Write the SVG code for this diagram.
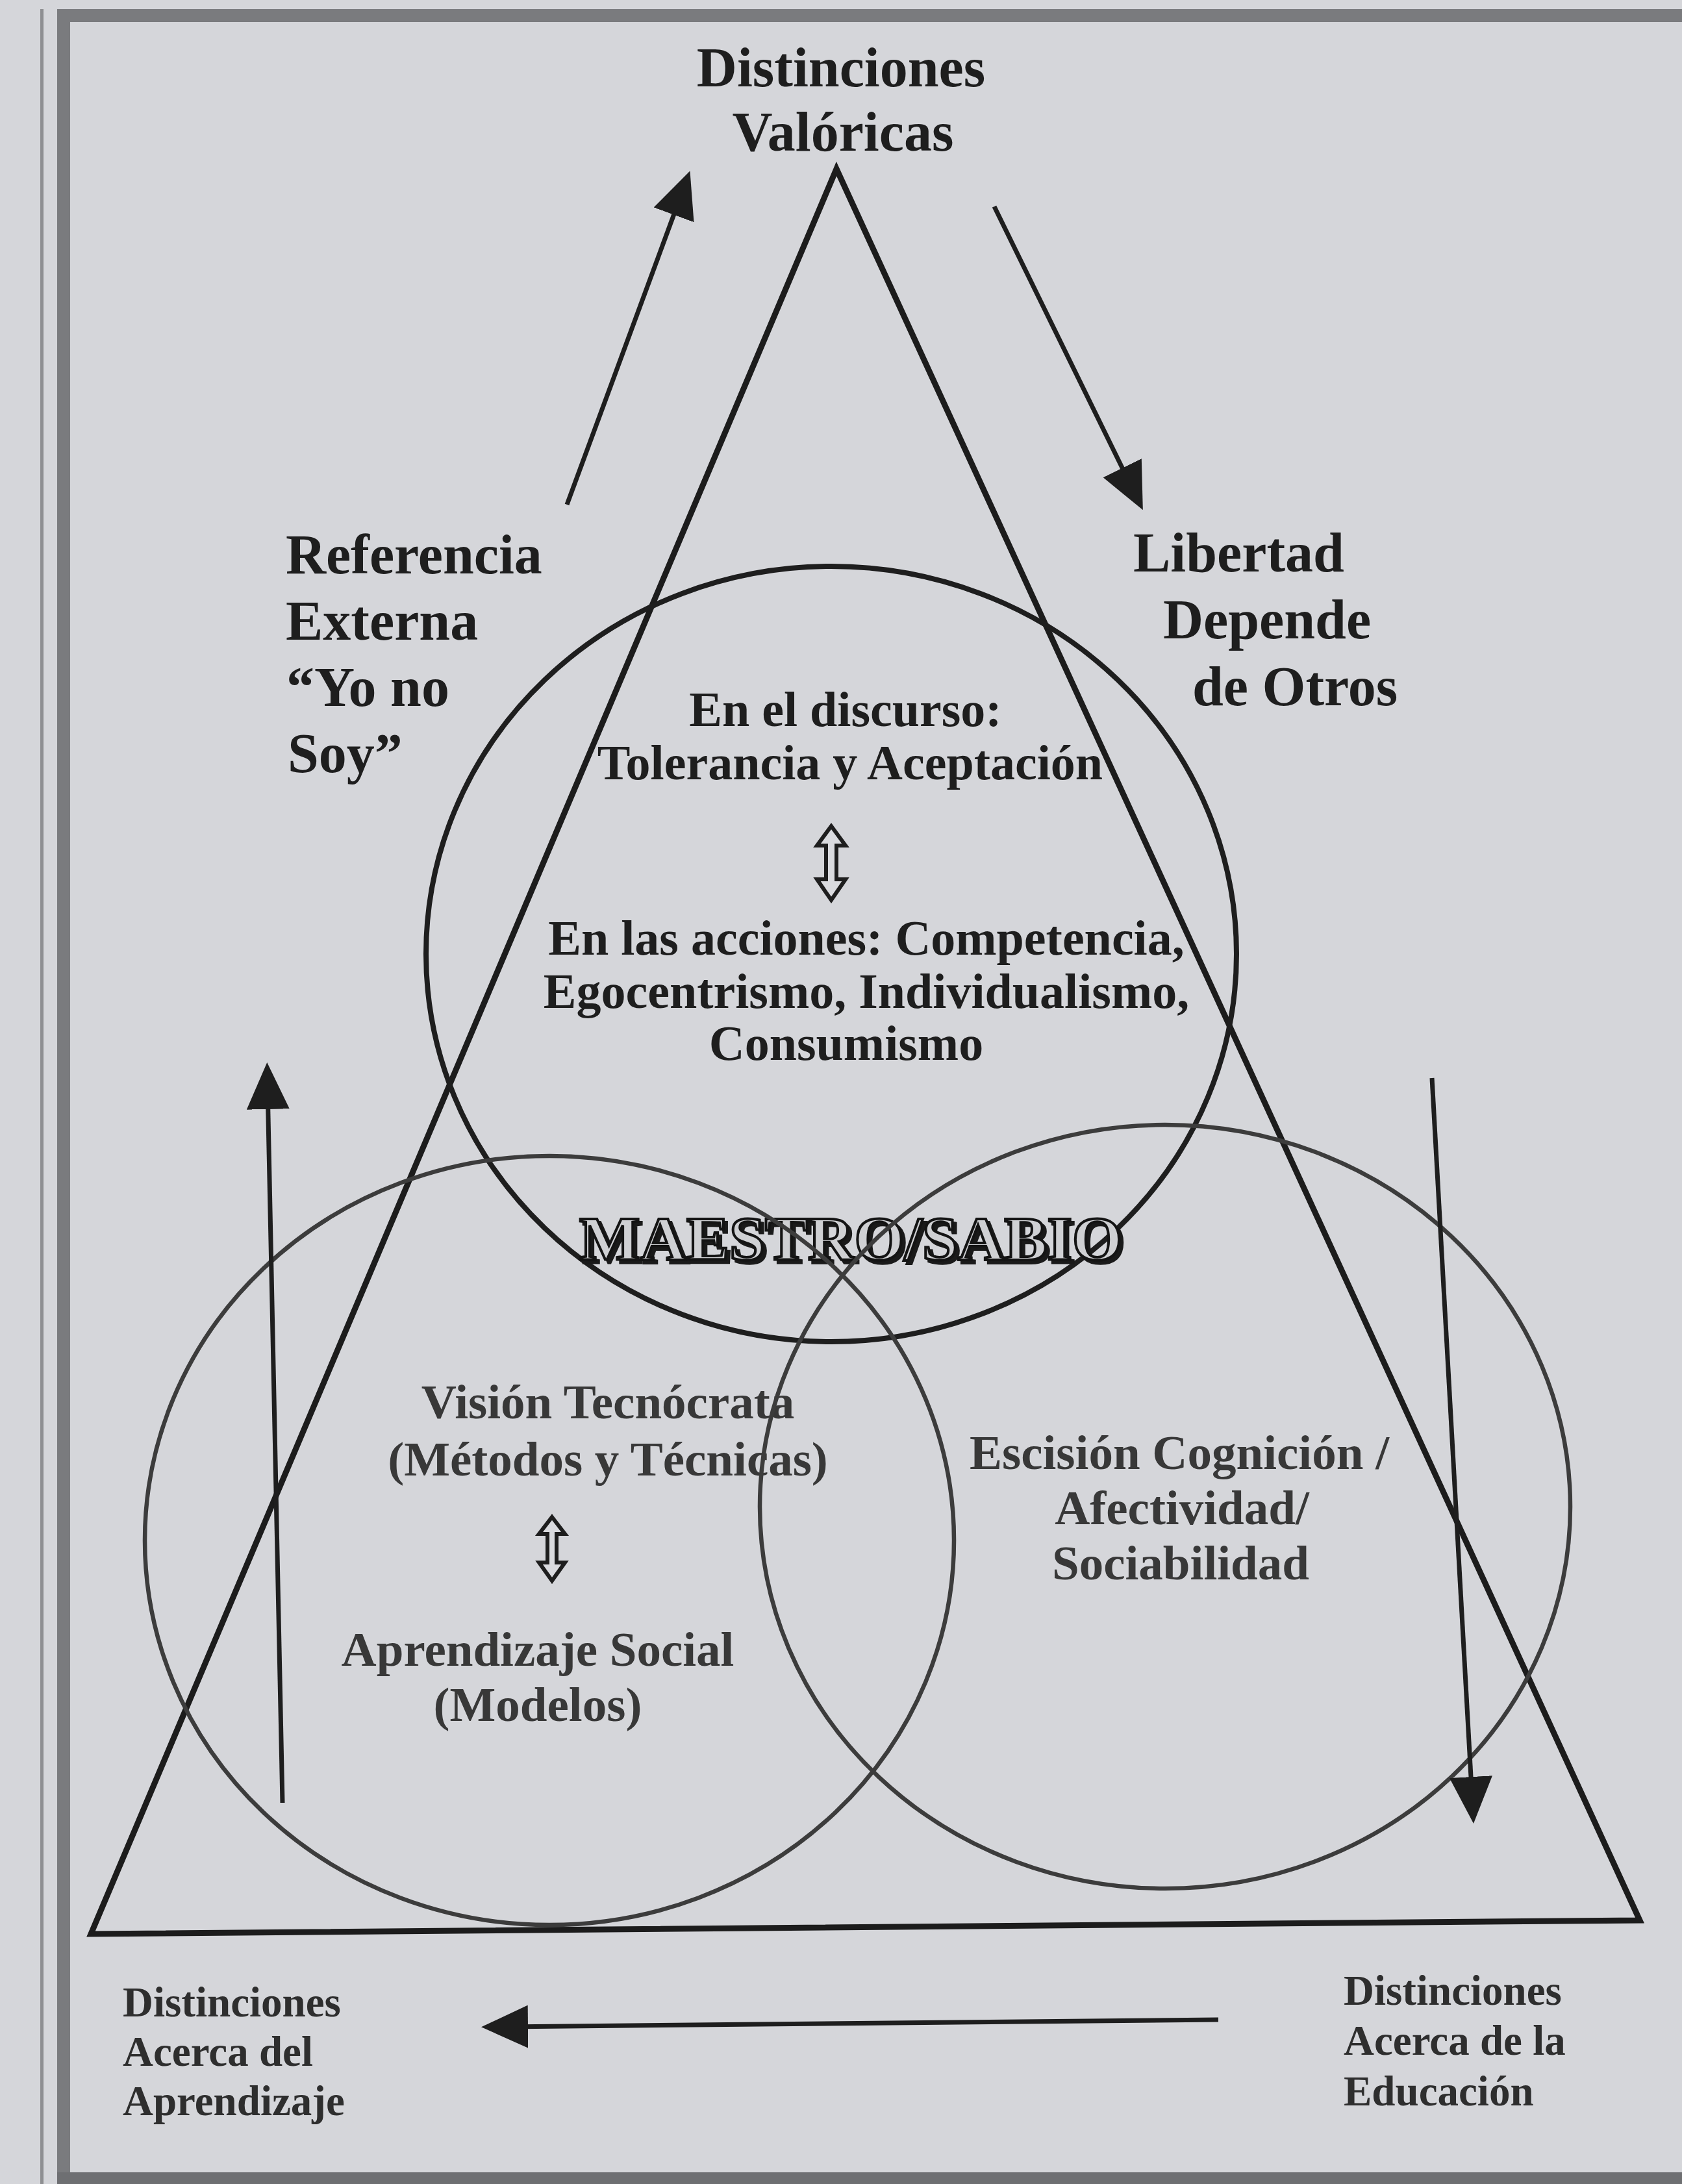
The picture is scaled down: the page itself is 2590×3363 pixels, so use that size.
<svg xmlns="http://www.w3.org/2000/svg" width="2590" height="3363" viewBox="0 0 2590 3363">
<defs>
<style>
.t{font-family:"Liberation Serif","Times New Roman",serif;font-weight:bold;fill:#1e1e1e}
.big{font-size:86px}
.mid{font-size:76px}
.low{font-size:75px;fill:#383838}
.sm{font-size:65px;fill:#2e2e2e}
.c{text-anchor:middle}
.tri{fill:none;stroke:#1c1c1c;stroke-width:9;stroke-linejoin:miter}
.circTop{fill:none;stroke:#1e1e1e;stroke-width:8}
.circLow{fill:none;stroke:#3c3c3c;stroke-width:6.5}
.arr{fill:none;stroke:#1e1e1e;stroke-width:7;marker-end:url(#ah)}
.dbl{fill:#dadbdf;stroke:#1e1e1e;stroke-width:6;stroke-linejoin:miter}
.ms{font-family:"Liberation Serif","Times New Roman",serif;font-weight:bold;font-size:96px;text-anchor:middle}
</style>
<marker id="ah" markerUnits="userSpaceOnUse" markerWidth="72" markerHeight="66" refX="36" refY="33" orient="auto" viewBox="0 0 72 66">
<path d="M0,0 L72,33 L0,66 z" fill="#1e1e1e"/>
</marker>
</defs>
<rect x="0" y="0" width="2590" height="3363" fill="#d5d6da"/>
<g id="frame">
<rect x="62" y="14" width="5" height="3349" fill="#8e8f92"/>
<rect x="90" y="14" width="2500" height="20" fill="#7a7b7e"/>
<rect x="88" y="14" width="20" height="3349" fill="#7a7b7e"/>
<rect x="88" y="3345" width="2502" height="18" fill="#6e6f72"/>
</g>
<g id="triangle">
<polygon class="tri" points="1288,260 2525,2957 140,2978"/>
</g>
<g id="circle-top">
<ellipse class="circTop" cx="1280" cy="1469" rx="624" ry="597"/>
<text class="t mid c" x="1302" y="1118">En el discurso:</text>
<text class="t mid c" x="1309" y="1200">Tolerancia y Aceptación</text>
<path class="dbl" d="M1280,1272 L1302,1302 L1288,1302 L1288,1354 L1302,1354 L1280,1386 L1258,1354 L1272,1354 L1272,1302 L1258,1302 z"/>
<text class="t mid c" x="1334" y="1470">En las acciones: Competencia,</text>
<text class="t mid c" x="1334" y="1552">Egocentrismo, Individualismo,</text>
<text class="t mid c" x="1303" y="1632">Consumismo</text>
</g>
<g id="maestro-sabio">
<text class="ms" x="1315" y="1945" fill="#1a1a1a" stroke="#1a1a1a" stroke-width="4" textLength="836" lengthAdjust="spacingAndGlyphs">MAESTRO/SABIO</text>
<text class="ms" x="1310" y="1940" fill="#cfd0d3" stroke="#141414" stroke-width="4" textLength="836" lengthAdjust="spacingAndGlyphs">MAESTRO/SABIO</text>
</g>
<g id="circle-left">
<ellipse class="circLow" cx="846" cy="2372" rx="623" ry="592"/>
<text class="t low c" x="936" y="2184">Visión Tecnócrata</text>
<text class="t low c" x="936" y="2272">(Métodos y Técnicas)</text>
<path class="dbl" d="M850,2336 L870,2362 L857,2362 L857,2406 L870,2406 L850,2434 L830,2406 L843,2406 L843,2362 L830,2362 z"/>
<text class="t low c" x="828" y="2565">Aprendizaje Social</text>
<text class="t low c" x="828" y="2650">(Modelos)</text>
</g>
<g id="circle-right">
<ellipse class="circLow" cx="1794" cy="2320" rx="624" ry="588"/>
<text class="t low c" x="1816" y="2262">Escisión Cognición /</text>
<text class="t low c" x="1820" y="2347">Afectividad/</text>
<text class="t low c" x="1818" y="2432">Sociabilidad</text>
</g>
<g id="label-top">
<text class="t big c" x="1295" y="133">Distinciones</text>
<text class="t big c" x="1298" y="232">Valóricas</text>
</g>
<g id="label-left">
<text class="t big" x="440" y="883">Referencia</text>
<text class="t big" x="440" y="985">Externa</text>
<text class="t big" x="441" y="1087">“Yo no</text>
<text class="t big" x="443" y="1189">Soy”</text>
</g>
<g id="label-right">
<text class="t big" x="1745" y="880">Libertad</text>
<text class="t big" x="1791" y="983">Depende</text>
<text class="t big" x="1836" y="1086">de Otros</text>
</g>
<g id="label-bottom-left">
<text class="t sm" x="189" y="3105">Distinciones</text>
<text class="t sm" x="189" y="3181">Acerca del</text>
<text class="t sm" x="189" y="3257">Aprendizaje</text>
</g>
<g id="label-bottom-right">
<text class="t sm" x="2069" y="3087">Distinciones</text>
<text class="t sm" x="2069" y="3164">Acerca de la</text>
<text class="t sm" x="2069" y="3242">Educación</text>
</g>
<g id="connectors">
<line class="arr" x1="873" y1="777" x2="1050" y2="297"/>
<line class="arr" x1="1531" y1="318" x2="1744" y2="753"/>
<line class="arr" x1="435" y1="2776" x2="412" y2="1672"/>
<line class="arr" x1="2205" y1="1660" x2="2267" y2="2772"/>
<line class="arr" x1="1876" y1="3110" x2="777" y2="3121"/>
</g>
</svg>
